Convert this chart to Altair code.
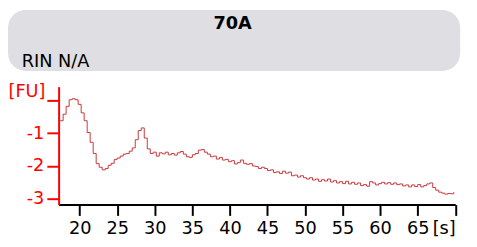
import altair as alt
import pandas as pd

# Trace (seconds, fluorescence units)
times = [17.4, 17.8, 18.2, 18.6, 19.0, 19.4, 19.8, 20.2, 20.6, 21.0, 21.4, 21.8, 22.2, 22.6, 23.0, 23.4,
         23.8, 24.2, 24.6, 25.0, 25.4, 25.8, 26.2, 26.6, 27.0, 27.4, 27.8, 28.2, 28.6, 29.0, 29.4, 29.8,
         30.2, 30.6, 31.0, 31.4, 31.8, 32.2, 32.6, 33.0, 33.4, 33.8, 34.2, 34.6, 35.0, 35.4, 35.8, 36.2,
         36.6, 37.0, 37.4, 37.8, 38.2, 38.6, 39.0, 39.4, 39.8, 40.2, 40.6, 41.0, 41.4, 41.8, 42.2, 42.6,
         43.0, 43.4, 43.8, 44.2, 44.6, 45.0, 45.4, 45.8, 46.2, 46.6, 47.0, 47.4, 47.8, 48.2, 48.6, 49.0,
         49.4, 49.8, 50.2, 50.6, 51.0, 51.4, 51.8, 52.2, 52.6, 53.0, 53.4, 53.8, 54.2, 54.6, 55.0, 55.4,
         55.8, 56.2, 56.6, 57.0, 57.4, 57.8, 58.2, 58.6, 59.0, 59.4, 59.8, 60.2, 60.6, 61.0, 61.4, 61.8,
         62.2, 62.6, 63.0, 63.4, 63.8, 64.2, 64.6, 65.0, 65.4, 65.8, 66.2, 66.6, 67.0, 67.4, 67.8, 68.2,
         68.6, 69.0, 69.4, 69.8]
fu = [-0.62, -0.42, -0.18, 0.02, 0.05, 0.02, -0.12, -0.38, -0.62, -0.98, -1.28, -1.62, -1.93, -2.04, -2.12, -2.08,
      -1.98, -1.92, -1.80, -1.76, -1.70, -1.64, -1.62, -1.55, -1.45, -1.20, -0.92, -0.84, -1.15, -1.48, -1.62, -1.58,
      -1.70, -1.60, -1.63, -1.58, -1.66, -1.62, -1.67, -1.60, -1.56, -1.64, -1.72, -1.74, -1.66, -1.62, -1.52, -1.50,
      -1.58, -1.64, -1.72, -1.70, -1.79, -1.74, -1.82, -1.80, -1.87, -1.84, -1.94, -1.90, -1.82, -1.92, -1.95, -1.93,
      -2.00, -2.02, -2.08, -2.04, -2.08, -2.14, -2.12, -2.20, -2.18, -2.23, -2.16, -2.22, -2.19, -2.30, -2.28, -2.34,
      -2.30, -2.36, -2.40, -2.36, -2.43, -2.40, -2.47, -2.42, -2.46, -2.40, -2.49, -2.45, -2.52, -2.48, -2.54, -2.47,
      -2.55, -2.50, -2.56, -2.52, -2.60, -2.57, -2.62, -2.48, -2.52, -2.58, -2.54, -2.50, -2.55, -2.51, -2.56, -2.52,
      -2.57, -2.55, -2.61, -2.58, -2.64, -2.58, -2.63, -2.57, -2.64, -2.60, -2.55, -2.52, -2.66, -2.74, -2.80, -2.83,
      -2.86, -2.84, -2.85, -2.80]

x_ticks = [20, 25, 30, 35, 40, 45, 50, 55, 60, 65, 70]
y_ticks = [0, -1, -2, -3]
title_text = "70A"
subtitle_text = "RIN N/A"
y_unit = "[FU]"
x_unit = "[s]"

df = pd.DataFrame({"t": times, "fu": fu})
FONT = "DejaVu Sans"
RED = "#ff0000"

line = alt.Chart(df).mark_line(
    interpolate="step-after", color="#c8373a", strokeWidth=1
).encode(
    x=alt.X("t:Q", scale=alt.Scale(domain=[17.2, 70], nice=False, zero=False),
            axis=alt.Axis(values=x_ticks, title=None, grid=False,
                          labelExpr=f"datum.value == 70 ? '{x_unit}' : datum.label",
                          domainColor="black", domainWidth=2, tickColor="black",
                          tickWidth=2, tickSize=11, labelFontSize=18, labelFont=FONT,
                          labelColor="black", labelPadding=4)),
    y=alt.Y("fu:Q", scale=alt.Scale(domain=[-3.18, 0.42], nice=False, zero=False),
            axis=alt.Axis(values=y_ticks, title=y_unit, grid=False,
                          labelExpr="datum.value == 0 ? '' : '-' + abs(datum.value)",
                          domainColor=RED, domainWidth=2, tickColor=RED,
                          tickWidth=2, tickSize=12, labelFontSize=18, labelFont=FONT,
                          labelColor=RED, labelPadding=3,
                          titleAngle=0, titleX=-51.5, titleY=5, titleAlign="left",
                          titleBaseline="middle", titleColor=RED, titleFontSize=18,
                          titleFont=FONT, titleFontWeight="normal"))
)

one = alt.Data(values=[{"a": 1}])
header = alt.Chart(one).mark_rect(
    cornerRadius=18, fill="#dfdfe3"
).encode(x=alt.value(-51.5), x2=alt.value(408.5), y=alt.value(-78), y2=alt.value(-16))

title = alt.Chart(one).mark_text(
    text=title_text, font=FONT, fontSize=18, fontWeight="bold", align="center",
    baseline="alphabetic", color="black"
).encode(x=alt.value(177), y=alt.value(-59))

sub = alt.Chart(one).mark_text(
    text=subtitle_text, font=FONT, fontSize=18, align="left",
    baseline="alphabetic", color="black"
).encode(x=alt.value(-37.5), y=alt.value(-19.5))

chart = alt.layer(header, title, sub, line).properties(
    width=403.5, height=120,
    autosize=alt.AutoSizeParams(type="none"),
    padding={"left": 51.5, "top": 78, "right": 14, "bottom": 33},
).configure_view(stroke=None)

chart.save("out.html", embed_options={"renderer": "svg", "actions": False})
